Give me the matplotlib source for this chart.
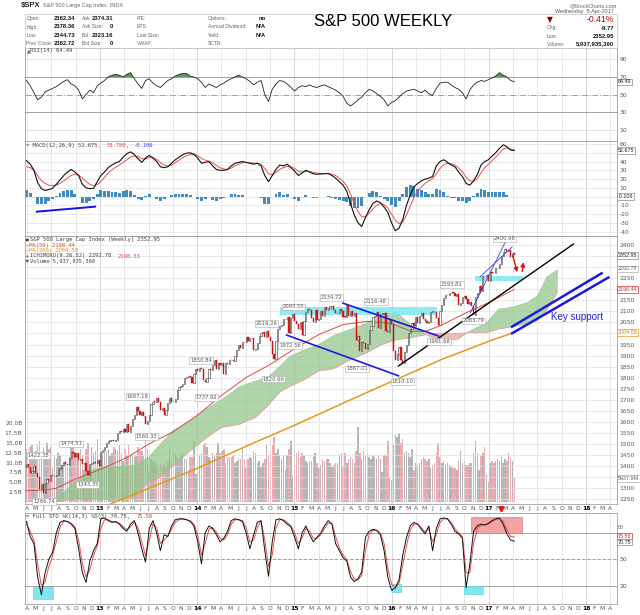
import numpy as np
import pandas as pd
import matplotlib
matplotlib.use("Agg")
import matplotlib.pyplot as plt
from matplotlib.patches import Rectangle

# weekly closes of $SPX, Fridays 23-Mar-2012 .. 5-Apr-2017
# (the first value only serves as the open of the first candle)
closes_2012 = [1397.1, 1408.5, 1398.1, 1370.3, 1378.5, 1403.4, 1369.1, 1353.4, 1295.2, 1317.8,
               1278.0, 1325.7, 1342.8, 1335.0, 1362.2, 1354.7, 1356.8, 1362.7, 1386.0, 1391.0,
               1405.9, 1418.2, 1411.1, 1406.6, 1437.9, 1465.8, 1460.2, 1440.7, 1460.9, 1428.6,
               1433.2, 1411.9, 1414.2, 1379.9, 1359.9, 1409.2, 1416.2, 1418.1, 1413.6, 1430.2, 1402.4]
closes_2013 = [1466.5, 1472.1, 1486.0, 1503.0, 1513.2, 1517.9, 1519.8, 1515.6, 1518.2, 1551.2,
               1560.7, 1556.9, 1569.2, 1553.3, 1588.9, 1555.3, 1582.2, 1614.4, 1633.7, 1667.5,
               1649.6, 1630.7, 1643.4, 1626.7, 1592.4, 1606.3, 1631.9, 1680.2, 1692.1, 1691.7,
               1709.7, 1691.4, 1655.8, 1663.5, 1633.0, 1655.2, 1688.0, 1709.9, 1691.8, 1690.5,
               1703.2, 1744.5, 1759.8, 1761.6, 1770.6, 1798.2, 1804.8, 1805.8, 1805.1, 1775.3,
               1818.3, 1841.4]
closes_2014 = [1831.4, 1842.4, 1838.7, 1790.3, 1782.6, 1797.0, 1838.6, 1836.3, 1859.5, 1878.0,
               1841.1, 1866.5, 1857.6, 1865.1, 1815.7, 1864.9, 1863.4, 1881.1, 1878.5, 1877.9,
               1900.5, 1923.6, 1949.4, 1936.2, 1962.9, 1961.0, 1985.4, 1967.6, 1978.2, 1978.3,
               1925.2, 1931.6, 1955.1, 1988.4, 2003.4, 2007.7, 1985.5, 2010.4, 1982.9, 1967.9,
               1906.1, 1886.8, 1964.6, 2018.1, 2031.9, 2039.8, 2063.5, 2067.6, 2075.4, 2002.3,
               2070.7, 2088.8]
closes_2015 = [2058.2, 2044.8, 2019.4, 2051.8, 1995.0, 2055.5, 2097.0, 2110.3, 2104.5, 2071.3,
               2053.4, 2108.1, 2061.0, 2067.0, 2102.1, 2081.2, 2117.7, 2108.3, 2116.1, 2122.7,
               2126.1, 2107.4, 2092.8, 2094.1, 2110.0, 2101.5, 2076.8, 2076.6, 2126.6, 2079.7,
               2103.8, 2077.6, 2091.5, 1970.9, 1988.9, 1921.2, 1961.1, 1958.0, 1931.3, 1951.4,
               2014.9, 2033.1, 2075.2, 2079.4, 2099.2, 2023.0, 2089.2, 2090.1, 2091.7, 2012.4,
               2005.6, 2061.0, 2043.9]
closes_2016 = [1922.0, 1880.3, 1906.9, 1940.2, 1880.1, 1864.8, 1917.8, 1948.1, 2000.0, 2022.2,
               2049.6, 2035.9, 2072.8, 2047.6, 2080.7, 2091.6, 2065.3, 2057.1, 2046.6, 2052.3,
               2099.1, 2099.1, 2096.1, 2071.2, 2037.4, 2103.0, 2129.9, 2161.7, 2175.0, 2173.6,
               2182.9, 2184.1, 2183.9, 2169.0, 2180.0, 2127.8, 2139.2, 2164.7, 2168.3, 2153.7,
               2133.0, 2141.2, 2126.4, 2085.2, 2164.5, 2181.9, 2213.4, 2192.0, 2259.5, 2258.1,
               2263.8, 2238.8]
closes_2017 = [2277.0, 2274.6, 2271.3, 2294.7, 2297.4, 2316.1, 2351.2, 2367.3, 2383.1, 2372.6,
               2378.3, 2344.0, 2362.7, 2353.0]

# weekly volume in billions, 30-Mar-2012 .. 5-Apr-2017
vol_2012 = [13.5, 9.5, 14.0, 14.5, 12.5, 13.0, 14.5, 15.5, 11.0, 14.0, 12.5, 15.0, 13.5, 14.0,
            8.5, 11.5, 11.0, 12.5, 12.0, 9.5, 10.0, 10.5, 9.0, 11.5, 14.5, 15.5, 12.5, 11.0,
            11.0, 13.5, 12.0, 8.0, 13.5, 15.0, 8.0, 14.0, 12.5, 13.0, 16.0, 8.5]
vol_2013 = [12.0, 12.5, 13.0, 13.0, 13.5, 12.0, 12.5, 14.0, 13.5, 13.0, 14.5, 12.5, 10.5,
            13.5, 12.0, 14.5, 12.0, 12.5, 11.5, 12.0, 14.0, 13.0, 13.0, 12.0, 16.0, 13.5,
            7.5, 11.0, 10.5, 10.0, 10.5, 9.0, 10.0, 9.0, 9.5, 9.0, 10.5, 13.5, 10.5,
            11.0, 12.5, 11.5, 11.0, 12.0, 12.5, 11.0, 11.0, 8.0, 11.5, 11.5, 15.5, 7.0]
vol_2014 = [9.0, 12.0, 12.5, 14.5, 15.0, 14.0, 11.5, 11.0, 12.5, 12.0, 12.5, 15.0, 12.5,
            13.0, 13.5, 10.0, 11.5, 11.5, 11.5, 12.0, 10.0, 10.5, 11.0, 11.0, 13.5, 11.0,
            8.5, 11.0, 11.5, 11.0, 13.0, 12.5, 10.0, 10.5, 9.0, 10.0, 11.0, 14.5, 12.0,
            13.0, 14.5, 16.5, 12.5, 13.5, 12.0, 11.0, 12.0, 8.0, 12.0, 13.5, 15.5, 6.5]
vol_2015 = [8.0, 12.5, 13.0, 11.5, 12.5, 12.0, 10.5, 10.0, 10.5, 10.5, 11.5, 12.5, 10.0,
            8.5, 9.5, 11.0, 10.5, 11.0, 11.0, 10.0, 9.0, 9.5, 10.0, 10.0, 12.0, 12.5,
            9.0, 12.5, 10.0, 11.0, 11.5, 11.0, 10.0, 13.0, 19.0, 12.5, 11.0, 13.0, 12.0,
            12.5, 11.5, 11.0, 12.0, 11.5, 11.0, 12.0, 11.0, 7.5, 12.0, 12.0, 15.5, 6.0, 5.5]
vol_2016 = [14.5, 17.0, 16.5, 17.5, 15.0, 16.0, 12.5, 13.0, 12.5, 11.5, 13.5, 8.0, 10.0,
            9.5, 10.0, 11.0, 11.5, 11.0, 10.5, 11.0, 8.5, 9.5, 10.0, 12.5, 15.0, 11.5,
            10.0, 10.5, 9.5, 10.0, 9.5, 9.0, 8.5, 8.5, 8.0, 10.5, 13.0, 10.0, 10.5,
            9.5, 9.5, 10.0, 10.0, 12.5, 15.5, 12.5, 8.0, 12.0, 12.5, 14.0, 7.0, 5.0]
vol_2017 = [10.0, 10.5, 10.0, 10.5, 11.0, 10.5, 11.5, 10.0, 11.0, 10.5, 12.5, 11.5, 10.5, 6.0]

# indicators read every second week, 30-Mar-2012 .. 7-Apr-2017
rsi14 = [66, 60, 52, 44, 47, 53, 55, 57, 59, 62, 65,
         67, 62, 60, 55, 45, 50, 55, 52, 60, 63, 66,
         70, 72, 73, 72, 70, 73, 75, 68, 62, 57, 66,
         68, 63, 60, 58, 62, 66, 68, 71, 73, 74, 74,
         71, 70, 68, 64, 58, 62, 60, 58, 61, 63, 66,
         68, 70, 72, 70, 68, 65, 61, 64, 66, 50, 42,
         56, 62, 66, 65, 62, 58, 54, 58, 60, 59, 61,
         59, 58, 60, 61, 59, 57, 55, 52, 48, 40, 37,
         40, 44, 47, 52, 56, 54, 51, 48, 44, 37, 41,
         43, 47, 51, 54, 55, 56, 54, 52, 55, 51, 49,
         57, 63, 64, 64, 61, 58, 56, 52, 45, 55, 61,
         64, 66, 65, 67, 69, 71, 75, 72, 70, 66, 64.5]
macd_line = [41, 37, 30, 16, 9, 7, 8, 9.5, 14, 19, 24,
             28, 31, 28, 24, 14, 10, 9, 9.5, 17, 24, 28,
             33, 36, 38.5, 40, 45, 49, 51, 48, 43, 39, 44,
             47, 44, 40, 34, 33, 34, 38, 42, 45, 48, 49.5,
             50, 48, 44, 38, 39, 40, 35, 31, 30, 30, 31,
             35, 38, 39, 40, 39, 38, 37, 38, 35, 24, 17,
             24, 31, 36, 35, 37, 33, 29, 24, 27, 30, 28,
             26, 25.5, 25.7, 26, 26.4, 24, 21, 17, 13, 6, -8,
             -21, -30, -34, -24, -15, -8, -5, -7, -12, -18, -30,
             -39, -36, -26, -10, 2, 11, 15, 18, 20, 21, 23,
             35, 40, 42, 39, 36, 34, 28, 23, 15, 13, 18,
             25, 36, 40, 42, 46, 50, 55, 59, 57, 53, 52.7]
macd_signal = [34, 33, 30, 24, 18, 15, 13, 12.5, 13, 15, 18,
               21, 24, 25.5, 24.5, 21, 17, 14, 12.5, 13.5, 17, 22,
               27, 30.5, 33.5, 36, 39, 42, 45, 46.5, 45.5, 43, 43,
               44.5, 44.5, 42.5, 39, 36, 35, 36, 38.5, 41.5, 44.5, 46.5,
               48, 48.5, 47, 43.5, 41.5, 40.5, 38.5, 35.5, 33, 31.5, 31,
               32.5, 35, 37, 38.5, 39, 38.5, 38, 38, 37, 32, 26,
               25, 27.5, 31, 33, 34.5, 34, 32, 29, 28, 28.5, 28.5,
               27.5, 26.8, 26.3, 26.2, 26.2, 25.5, 24, 21, 17.5, 12, 3,
               -8, -17, -23, -23, -19, -14, -10, -8, -9.5, -13, -20,
               -27, -31, -29, -21, -11, -1, 6, 11, 15, 18, 20.5,
               26, 32, 36.5, 38, 37.5, 36, 32.5, 28.5, 22, 18, 17.5,
               20.5, 27, 33, 37, 41, 45, 49.5, 54, 55.5, 54, 52.8]
sto_k = [93, 76, 68, 30, 10, 35, 50, 58, 80, 92, 94,
         93, 90, 85, 62, 35, 24, 48, 60, 68, 96, 97,
         94, 92, 93, 90, 85, 82, 90, 94, 80, 62, 47,
         85, 94, 80, 60, 78, 76, 88, 95, 96, 96, 95,
         93, 88, 70, 45, 80, 88, 85, 78, 70, 74, 82,
         94, 96, 95, 93, 80, 62, 78, 92, 94, 60, 31,
         70, 95, 96, 94, 90, 87, 75, 62, 80, 88, 78,
         70, 75, 80, 88, 94, 90, 68, 60, 52, 48, 30,
         25, 28, 36, 75, 82, 84, 83, 78, 60, 30, 15,
         18, 27, 55, 75, 88, 92, 90, 84, 79, 88, 60,
         85, 96, 97, 96, 90, 82, 79, 74, 18, 45, 82,
         88, 90, 89, 91, 94, 96, 97, 90, 79, 72, 70.75]
sto_d = [90, 82, 72, 45, 20, 25, 42, 54, 70, 87, 93,
         93, 91, 87, 72, 45, 30, 38, 55, 65, 85, 95,
         95, 93, 92, 91, 87, 84, 87, 92, 86, 70, 54,
         72, 90, 86, 68, 72, 77, 84, 92, 95, 96, 95,
         94, 90, 78, 55, 68, 84, 86, 81, 74, 72, 78,
         90, 95, 95, 94, 86, 70, 72, 86, 93, 72, 42,
         55, 86, 95, 95, 92, 88, 80, 68, 74, 85, 82,
         74, 74, 78, 85, 91, 91, 76, 63, 55, 50, 36,
         28, 27, 32, 60, 78, 83, 83, 80, 68, 40, 22,
         18, 23, 44, 66, 83, 90, 90, 86, 81, 85, 70,
         78, 92, 96, 96, 92, 85, 80, 76, 35, 35, 68,
         85, 89, 89, 90, 93, 95, 96, 93, 84, 76, 75.56]

# overlays on the price panel (decimal years)
ma50_x = [2012.24, 2012.4, 2012.55, 2012.76, 2013.0, 2013.28, 2013.5, 2013.75, 2014.0, 2014.25,
          2014.5, 2014.75, 2015.0, 2015.25, 2015.5, 2015.75, 2016.0, 2016.2, 2016.35, 2016.5,
          2016.75, 2017.0, 2017.26]
ma50_y = [1290, 1292, 1300, 1345, 1385, 1440, 1500, 1555, 1630, 1720,
          1800, 1860, 1930, 1995, 2040, 2055, 2045, 2010, 2010, 2035,
          2090, 2140, 2198.44]
ma200_x = [2012.24, 2012.6, 2013.0, 2013.5, 2014.0, 2014.5, 2015.0, 2015.5, 2016.0, 2016.5,
           2017.0, 2017.26]
ma200_y = [1130, 1165, 1210, 1300, 1390, 1490, 1585, 1685, 1783, 1880, 1965, 2004.58]
cloud_x = [2012.24, 2012.5, 2012.7, 2012.85, 2013.0, 2013.2, 2013.35, 2013.5, 2013.6, 2013.75,
           2013.93, 2014.1, 2014.25, 2014.44, 2014.6, 2014.72, 2014.85, 2014.95, 2015.1, 2015.25,
           2015.4, 2015.57, 2015.75, 2015.9, 2016.05, 2016.2, 2016.3, 2016.43, 2016.55, 2016.68,
           2016.8, 2016.98, 2017.1, 2017.25, 2017.4, 2017.5, 2017.6, 2017.71]
span_a = [1190, 1240, 1310, 1370, 1395, 1400, 1405, 1440, 1490, 1560,
          1605, 1660, 1700, 1760, 1785, 1800, 1850, 1896, 1925, 1950,
          1990, 2017, 2049, 2085, 2095, 2040, 2010, 1978, 1968, 1975,
          2010, 2049, 2110, 2120, 2140, 2170, 2256, 2288]
span_b = [1180, 1235, 1250, 1250, 1250, 1250, 1255, 1330, 1345, 1400,
          1470, 1530, 1575, 1590, 1620, 1670, 1735, 1760, 1790, 1830,
          1840, 1880, 1914, 1950, 1972, 1980, 1990, 2000, 2000, 2000,
          2004, 2004, 2020, 2031, 2045, 2060, 2108, 2188]

peak_dates = ["2012-04-02", "2012-09-14", "2013-05-22", "2014-01-15", "2014-09-19",
              "2014-12-29", "2015-05-20", "2015-11-03", "2016-08-15", "2017-03-01"]
peak_values = [1422.38, 1474.51, 1687.18, 1850.84, 2019.26, 2093.55, 2134.72, 2116.48, 2193.81, 2400.98]
trough_dates = ["2012-06-04", "2012-11-16", "2013-06-24", "2014-02-05", "2014-10-15",
                "2014-12-16", "2015-08-24", "2016-02-11", "2016-06-27", "2016-11-04"]
trough_values = [1266.74, 1343.35, 1560.33, 1737.92, 1820.66, 1972.56, 1867.01, 1810.10, 1991.68, 2083.79]

channel_lines = [((2014.92, 1993), (2016.07, 1809)), ((2015.50, 2137), (2016.48, 1989))]
trend_line = ((2016.07, 1853), (2017.87, 2404))
wedge_lines = [((2016.81, 2094), (2017.17, 2413)), ((2016.91, 2256), (2017.24, 2391))]
support_lines = [((2017.24, 2031), (2018.16, 2272)), ((2017.24, 2001), (2018.23, 2253))]
cyan_bands = [(2014.85, 2016.47, 2085, 2120), (2016.86, 2017.35, 2238, 2260)]
red_arrows = [((2017.24, 2364), (2017.30, 2265)), ((2017.34, 2268), (2017.36, 2335))]
macd_divergence = ((2012.35, -17.2), (2012.95, -11.5))
sto_cyan_boxes = [(2012.31, 2012.52, 5.3, 19), (2016.0, 2016.1, 13, 22), (2016.75, 2016.94, 11, 20)]
sto_red_box = (2016.82, 2017.34, 80, 98)

month_letters = ["J", "F", "M", "A", "M", "J", "J", "A", "S", "O", "N", "D"]

# ---------------------------------------------------------------
closes = np.array(closes_2012 + closes_2013 + closes_2014 + closes_2015 + closes_2016 + closes_2017)
volume = np.array(vol_2012 + vol_2013 + vol_2014 + vol_2015 + vol_2016 + vol_2017)
dates = pd.date_range("2012-03-23", periods=len(closes), freq="W-FRI")
wx = np.asarray(dates.year + (dates.dayofyear - 1) / 365.25, dtype=float)
ind_x = wx[1::2]


def yr(s):
    d = pd.Timestamp(s)
    return d.year + (d.dayofyear - 1) / 365.25


W, H = 640, 615
X0, X1 = 24.5, 617
XMIN, XMAX = 2012.2233, 2018.319
GRAY = "#555555"

fig = plt.figure(figsize=(6.4, 6.15), dpi=100)


def panel(top, bottom):
    return fig.add_axes([X0 / W, 1 - bottom / H, (X1 - X0) / W, (bottom - top) / H])


def ftext(x, y, s, **kw):
    kw.setdefault("fontsize", 3.6)
    kw.setdefault("va", "center")
    kw.setdefault("family", "Liberation Sans")
    fig.text(x / W, 1 - y / H, s, **kw)


def mono_row(x, y, parts, size=4.0):
    cw = size * 0.602 * 100 / 72
    for s, c in parts:
        fig.text(x / W, 1 - y / H, s, fontsize=size, family="DejaVu Sans Mono",
                 color=c, va="center", ha="left")
        x += len(s) * cw


quarters = np.arange(2012.25, 2018.3, 0.25)


def frame(ax):
    ax.set_xlim(XMIN, XMAX)
    for sp in ax.spines.values():
        sp.set_color("#a0a0a0")
        sp.set_linewidth(0.6)
    ax.yaxis.tick_right()
    ax.tick_params(axis="both", length=0, labelsize=4.3, labelcolor=GRAY, pad=2)
    for q in quarters:
        ax.axvline(q, color="#dedede" if q % 1 else "#c8c8c8", lw=0.5, zorder=0)
    ax.set_xticks([])


def tag(ax, yv, s, color="#222222", edge="#888888"):
    ax.text(1.0015, yv, s, transform=ax.get_yaxis_transform(), fontsize=3.9, color=color,
            family="Liberation Sans", va="center", ha="left", clip_on=False, zorder=20,
            bbox=dict(boxstyle="square,pad=0.12", fc="white", ec=edge, lw=0.5))


month_pos, month_lab = [], []
for y in range(2012, 2019):
    for m in range(1, 13):
        p = y + (m - 1) / 12
        if 2012.2 < p < 2018.3:
            month_pos.append(p)
            month_lab.append(f"{y % 100:02d}" if m == 1 else month_letters[m - 1])


def month_axis(ax):
    ax.set_xticks(month_pos)
    ax.set_xticklabels(month_lab)
    ax.tick_params(axis="x", labelsize=4.3, pad=1.2, labelcolor=GRAY)
    for lab in ax.get_xticklabels():
        if lab.get_text().isdigit():
            lab.set_fontweight("bold")
            lab.set_color("black")


# ---- header ----
ftext(21, 6, "$SPX", fontsize=5.5, weight="bold", color="#222222")
ftext(43, 6, "S&P 500 Large Cap Index  INDX", fontsize=4.0, color="#666666")
ftext(617, 6, "@StockCharts.com", fontsize=4.0, color="#666666", ha="right")
fig.add_artist(Rectangle((X0 / W, 1 - 47.5 / H), (X1 - X0) / W, 33.5 / H,
                         transform=fig.transFigure, fill=False, ec="#cccccc", lw=0.6))
rows = [18.5, 27, 35.5, 43.5]
info = [
    ("Open:", "2362.34", "Ask:", "2374.31", "P/E:", "Options:", "no"),
    ("High:", "2378.36", "Ask Size:", "0", "EPS:", "Annual Dividend:", "N/A"),
    ("Low:", "2344.73", "Bid:", "2323.16", "Last Size:", "Yield:", "N/A"),
    ("Prev Close:", "2362.72", "Bid Size:", "0", "VWAP:", "SCTR:", ""),
]
for y, (l1, v1, l2, v2, l3, l4, v4) in zip(rows, info):
    ftext(26.5, y, l1, color="#666666")
    ftext(75.5, y, v1, fontsize=4.2, color="#111111", weight="bold", ha="right")
    ftext(82, y, l2, color="#666666")
    ftext(113, y, v2, fontsize=4.2, color="#111111", weight="bold", ha="right")
    ftext(137, y, l3, color="#666666")
    ftext(208, y, l4, color="#666666")
    ftext(266, y, v4, fontsize=4.2, color="#111111", weight="bold", ha="right")
ftext(383, 22, "S&P 500 WEEKLY", fontsize=12, ha="center", color="black")
ftext(614, 12, "Wednesday  5-Apr-2017", fontsize=3.9, color="#555555", ha="right")
ftext(547, 20, "\u25bc", fontsize=5.5, color="#8b0000", family="DejaVu Sans")
ftext(614, 20, "-0.41%", fontsize=6.2, color="#c00000", ha="right")
for y, lab, val in [(28, "Chg:", "-9.77"), (36, "Last:", "2352.95"), (44, "Volume:", "5,937,935,360")]:
    ftext(547, y, lab, color="#666666")
    ftext(614, y, val, fontsize=4.2, color="#111111", weight="bold", ha="right")

# ---- RSI ----
ax_rsi = panel(47.5, 141)
frame(ax_rsi)
ax_rsi.set_ylim(-3.1, 103.7)
ax_rsi.set_yticks([10, 30, 50, 70, 90])
for lvl, col, ls in [(90, "#e2e2e2", "-"), (10, "#e2e2e2", "-"), (70, "#a0a0a0", "-"),
                     (30, "#a0a0a0", "-"), (50, "#a0a0a0", "-.")]:
    ax_rsi.axhline(lvl, color=col, lw=0.7, ls=ls, zorder=1)
rsi_arr = np.array(rsi14, dtype=float)
ax_rsi.fill_between(ind_x, rsi_arr, 70, where=rsi_arr > 70, interpolate=True,
                    color="#5f965f", lw=0, zorder=2)
ax_rsi.plot(ind_x, rsi_arr, color="#222222", lw=0.6, zorder=3)
ftext(26.5, 50.8, "\u25b2", fontsize=3.6, color="#4a7a4a", family="DejaVu Sans")
mono_row(30.5, 50.8, [("RSI(14) 64.49", "#444444")])
tag(ax_rsi, 64.49, "64.49")

# ---- MACD ----
ax_macd = panel(141, 235.5)
frame(ax_macd)
ax_macd.set_ylim(-44.4, 63.4)
macd_ticks = list(range(-40, 61, 10))
ax_macd.set_yticks(macd_ticks)
ax_macd.set_yticklabels(["" if t in (50, 0) else str(t) for t in macd_ticks])
ax_macd.grid(axis="y", color="#e2e2e2", lw=0.5)
ax_macd.set_axisbelow(True)
macd_arr = np.array(macd_line, dtype=float)
sig_arr = np.array(macd_signal, dtype=float)
ax_macd.bar(ind_x, macd_arr - sig_arr, width=0.03, color="#3d8dbf", lw=0, zorder=2)
ax_macd.plot(ind_x, sig_arr, color="#e8504a", lw=0.7, zorder=3)
ax_macd.plot(ind_x, macd_arr, color="#111111", lw=0.8, zorder=4)
(dx0, dy0), (dx1, dy1) = macd_divergence
ax_macd.plot([dx0, dx1], [dy0, dy1], color="#1414e6", lw=1.4, zorder=5)
mono_row(26, 145, [("= MACD(12,26,9) 52.675, ", "#444444"), ("53.780", "#e04040"),
                   (", ", "#444444"), ("-0.106", "#4040e0")])
tag(ax_macd, 52.675, "52.675")
tag(ax_macd, 0, "-0.106")

# ---- price ----
ax = panel(235.5, 504)
axv = ax.twinx()
frame(ax)
ax.set_ylim(1229.4, 2442.9)
price_ticks = list(range(1250, 2401, 50))
ax.set_yticks(price_ticks)
ax.set_yticklabels(["" if t in (2350, 2300, 2200, 2000, 1350) else str(t) for t in price_ticks])
ax.grid(axis="y", color="#e2e2e2", lw=0.5)
ax.set_axisbelow(True)

axv.set_xlim(XMIN, XMAX)
axv.set_ylim(-0.51, 67.6)
axv.yaxis.tick_left()
vol_ticks = [2.5, 5, 7.5, 10, 12.5, 15, 17.5, 20]
axv.set_yticks(vol_ticks)
axv.set_yticklabels([f"{v:.1f}B" for v in vol_ticks])
axv.tick_params(length=0, labelsize=4.3, labelcolor=GRAY, pad=1.5)
for sp in axv.spines.values():
    sp.set_visible(False)
ax.set_zorder(axv.get_zorder() + 1)
ax.patch.set_visible(False)
ax.yaxis.tick_right()
ax.tick_params(axis="y", length=0, labelsize=4.3, labelcolor=GRAY, pad=2)

opens = closes[:-1]
cl = closes[1:]
cx = wx[1:]
up = cl >= opens
axv.bar(cx, volume, width=0.015, color=np.where(up, "#b5b5b5", "#efa9b1"), lw=0, zorder=1)

ca = np.array(span_a, dtype=float)
cb = np.array(span_b, dtype=float)
ax.fill_between(cloud_x, ca, cb, where=ca >= cb, interpolate=True, color="#8fc488", alpha=0.7, lw=0, zorder=2)
ax.fill_between(cloud_x, ca, cb, where=ca < cb, interpolate=True, color="#f0a6a6", alpha=0.8, lw=0, zorder=2)
ax.plot(cloud_x, ca, color="#9ccb94", lw=0.5, zorder=2)
ax.plot(cloud_x, cb, color="#e99c9c", lw=0.6, zorder=2)

for x0, x1, p0, p1 in cyan_bands:
    ax.add_patch(Rectangle((x0, p0), x1 - x0, p1 - p0, color="#7ee8f0", alpha=0.85, lw=0, zorder=3))

ax.plot(ma200_x, ma200_y, color="#e49a1c", lw=1.1, zorder=4)
ax.plot(ma50_x, ma50_y, color="#e0484a", lw=0.7, zorder=4)

lo = np.minimum(opens, cl)
ht = np.maximum(np.abs(cl - opens), 1.5)
ax.bar(cx[up], ht[up], bottom=lo[up], width=0.0125, facecolor="white", edgecolor="#4a4a4a", lw=0.45, zorder=6)
ax.bar(cx[~up], ht[~up], bottom=lo[~up], width=0.0125, facecolor="#d81e1e", edgecolor="#c00000", lw=0.3, zorder=6)

for (x0, p0), (x1, p1) in channel_lines:
    ax.plot([x0, x1], [p0, p1], color="#1a1ae0", lw=1.2, zorder=7)
ax.plot([trend_line[0][0], trend_line[1][0]], [trend_line[0][1], trend_line[1][1]], color="black", lw=1.0, zorder=7)
for (x0, p0), (x1, p1) in wedge_lines:
    ax.plot([x0, x1], [p0, p1], color="#3a3aee", lw=0.6, zorder=7)
for (x0, p0), (x1, p1) in support_lines:
    ax.plot([x0, x1], [p0, p1], color="#1a1ae0", lw=1.8, zorder=7)
for start, end in red_arrows:
    ax.annotate("", xy=end, xytext=start, zorder=8,
                arrowprops=dict(arrowstyle="-|>", color="#e01010", lw=1.0, mutation_scale=6))
ax.text(2017.91, 2075, "Key support", color="#2424dc", fontsize=7, family="Liberation Sans",
        ha="center", va="center", zorder=8)

lbl_box = dict(boxstyle="square,pad=0.15", fc="white", ec="#aaaaaa", lw=0.4)
for d, v in zip(peak_dates, peak_values):
    dx = 8 if yr(d) < 2012.4 else 0
    ax.annotate(f"{v:.2f}", (yr(d), v), xytext=(dx, 2.5), textcoords="offset points", ha="center",
                va="bottom", fontsize=3.8, color=GRAY, bbox=lbl_box, zorder=9)
for d, v in zip(trough_dates, trough_values):
    ax.annotate(f"{v:.2f}", (yr(d), v), xytext=(0, -2.5), textcoords="offset points", ha="center",
                va="top", fontsize=3.8, color=GRAY, bbox=lbl_box, zorder=9)

month_axis(ax)
tag(ax, 2352.95, "2352.95")
tag(ax, 2292.78, "2292.78", color="#666666", edge="#aaaaaa")
tag(ax, 2198.44, "2198.44", color="#d03030", edge="#d03030")
tag(ax, 2004.58, "2004.58", color="#d08a10", edge="#e49a1c")
tag(axv, 5.94, "5937.9M", color="#666666", edge="#aaaaaa")

mono_row(26, 240, [("\u25a0", "#333333")], size=3.2)
mono_row(30.5, 240, [("S&P 500 Large Cap Index (Weekly) 2352.95", "#444444")])
mono_row(26, 245.4, [("\u2014MA(50) 2198.44", "#e04848")])
mono_row(26, 250.7, [("\u2014MA(200) 2004.58", "#e0961c")])
mono_row(26, 256, [("\u25b2", "#4a7a4a")], size=3.2)
mono_row(30.5, 256, [("ICHIMOKU(9,26,52) 2292.78 ", "#444444"), ("2198.33", "#e04848")])
mono_row(26, 261.3, [("\u25a0", "#666666")], size=3.2)
mono_row(30.5, 261.3, [("Volume 5,937,935,360", "#444444")])

# ---- Full stochastics ----
ax_sto = panel(513, 604)
frame(ax_sto)
ax_sto.set_ylim(-0.4, 102.6)
ax_sto.set_yticks([20, 50, 80])
ax_sto.set_yticklabels(["20", "50", ""])
for lvl, ls in [(80, "-"), (20, "-"), (50, "--")]:
    ax_sto.axhline(lvl, color="#a0a0a0", lw=0.7, ls=ls, zorder=1)
for x0, x1, s0, s1 in sto_cyan_boxes:
    ax_sto.add_patch(Rectangle((x0, s0), x1 - x0, s1 - s0, fc="#7ee8f0", ec="#5fd8e6", lw=0.5, zorder=2))
rx0, rx1, rs0, rs1 = sto_red_box
ax_sto.add_patch(Rectangle((rx0, rs0), rx1 - rx0, rs1 - rs0, fc="#f2a3a3", ec="#e07a7a", lw=0.5, zorder=2))
ax_sto.plot(ind_x, sto_d, color="#e8504a", lw=0.7, zorder=3)
ax_sto.plot(ind_x, sto_k, color="#111111", lw=0.7, zorder=4)
ax_sto.annotate("", xy=(2017.13, 99), xytext=(2017.13, 112), annotation_clip=False, zorder=9,
                arrowprops=dict(arrowstyle="-|>", color="#ee1010", lw=1.8, mutation_scale=6))
month_axis(ax_sto)
mono_row(26, 516.5, [("= Full STO %K(14,3) %D(3) 70.75, ", "#444444"), ("75.56", "#e04040")])
ax_sto.text(1.0015, 86, "80", transform=ax_sto.get_yaxis_transform(), fontsize=3.9, color=GRAY,
            family="Liberation Sans", va="center", ha="left", clip_on=False)
tag(ax_sto, 76.5, "75.56", color="#d03030", edge="#d03030")
tag(ax_sto, 69.5, "70.75")

fig.savefig("out.png", dpi=100)
